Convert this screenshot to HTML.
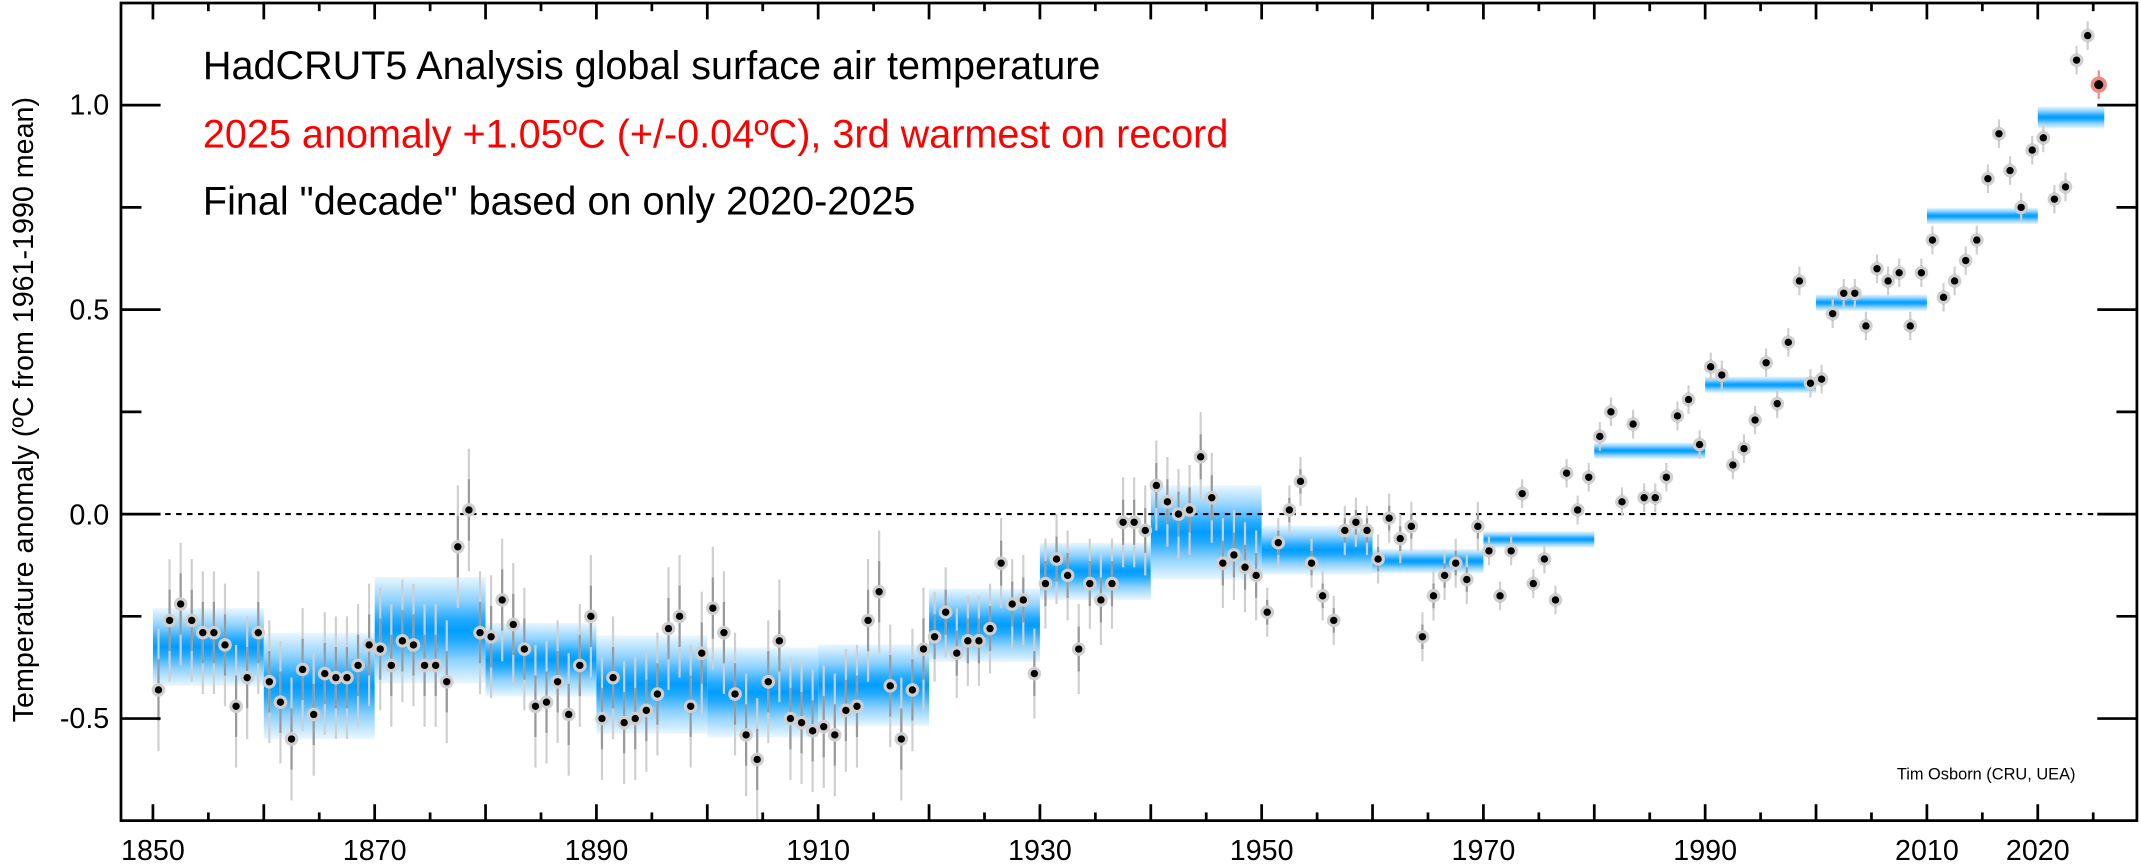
<!DOCTYPE html>
<html><head><meta charset="utf-8"><style>
html,body{margin:0;padding:0;background:#fff;}
svg{display:block;font-family:"Liberation Sans",sans-serif;}
</style></head><body>
<svg id="s" width="2141" height="865" viewBox="0 0 1568 633.5" preserveAspectRatio="none" xmlns="http://www.w3.org/2000/svg">
<defs>
<linearGradient id="g" x1="0" y1="0" x2="0" y2="1">
<stop offset="0" stop-color="#eaf7ff"/>
<stop offset="0.22" stop-color="#8fd2ff"/>
<stop offset="0.4" stop-color="#22aaff"/>
<stop offset="0.5" stop-color="#009dff"/>
<stop offset="0.6" stop-color="#22aaff"/>
<stop offset="0.78" stop-color="#8fd2ff"/>
<stop offset="1" stop-color="#eaf7ff"/>
</linearGradient>
</defs>
<g id="bands"></g>
<line x1="89" y1="376.5" x2="1565" y2="376.5" stroke="#000" stroke-width="1.6" stroke-dasharray="4,4"/>
<g id="pts"></g>
<rect x="88.6" y="2.2" width="1476.4" height="598.8" fill="none" stroke="#000" stroke-width="2"/>
<g id="ax" stroke="#000" stroke-width="2"></g>
<g font-size="21" fill="#000" text-anchor="end">
<text x="80" y="84">1.0</text>
<text x="80" y="234">0.5</text>
<text x="80" y="384">0.0</text>
<text x="80" y="533">-0.5</text>
</g>
<g font-size="21" fill="#000" text-anchor="middle" id="xl"></g>
<text transform="translate(24,300) rotate(-90)" font-size="21" text-anchor="middle">Temperature anomaly (ºC from 1961-1990 mean)</text>
<text x="148.6" y="58" font-size="29">HadCRUT5 Analysis global surface air temperature</text>
<text x="148.6" y="108" font-size="29" fill="#ff0000">2025 anomaly +1.05ºC (+/-0.04ºC), 3rd warmest on record</text>
<text x="148.6" y="157" font-size="29">Final "decade" based on only 2020-2025</text>
<text x="1520" y="571" font-size="12" text-anchor="end">Tim Osborn (CRU, UEA)</text>
</svg>
<script>
var d=[-0.43,-0.26,-0.22,-0.26,-0.29,-0.29,-0.32,-0.47,-0.40,-0.29,-0.41,-0.46,-0.55,-0.38,-0.49,-0.39,-0.40,-0.40,-0.37,-0.32,-0.33,-0.37,-0.31,-0.32,-0.37,-0.37,-0.41,-0.08,0.01,-0.29,-0.30,-0.21,-0.27,-0.33,-0.47,-0.46,-0.41,-0.49,-0.37,-0.25,-0.50,-0.40,-0.51,-0.50,-0.48,-0.44,-0.28,-0.25,-0.47,-0.34,-0.23,-0.29,-0.44,-0.54,-0.60,-0.41,-0.31,-0.50,-0.51,-0.53,-0.52,-0.54,-0.48,-0.47,-0.26,-0.19,-0.42,-0.55,-0.43,-0.33,-0.30,-0.24,-0.34,-0.31,-0.31,-0.28,-0.12,-0.22,-0.21,-0.39,-0.17,-0.11,-0.15,-0.33,-0.17,-0.21,-0.17,-0.02,-0.02,-0.04,0.07,0.03,0.00,0.01,0.14,0.04,-0.12,-0.10,-0.13,-0.15,-0.24,-0.07,0.01,0.08,-0.12,-0.20,-0.26,-0.04,-0.02,-0.04,-0.11,-0.01,-0.06,-0.03,-0.30,-0.20,-0.15,-0.12,-0.16,-0.03,-0.09,-0.20,-0.09,0.05,-0.17,-0.11,-0.21,0.10,0.01,0.09,0.19,0.25,0.03,0.22,0.04,0.04,0.09,0.24,0.28,0.17,0.36,0.34,0.12,0.16,0.23,0.37,0.27,0.42,0.57,0.32,0.33,0.49,0.54,0.54,0.46,0.60,0.57,0.59,0.46,0.59,0.67,0.53,0.57,0.62,0.67,0.82,0.93,0.84,0.75,0.89,0.92,0.77,0.80,1.11,1.17,1.05];
function X(y){return 112+(y-1850)*8.12;}
function Y(v){return 376.5-v*299.5;}
var ns="http://www.w3.org/2000/svg";
function el(p,t,a){var e=document.createElementNS(ns,t);for(var k in a)e.setAttribute(k,a[k]);p.appendChild(e);return e;}
var B=document.getElementById('bands'),P=document.getElementById('pts'),A=document.getElementById('ax'),XL=document.getElementById('xl');
var hh=[0.095,0.13,0.13,0.09,0.12,0.11,0.1,0.09,0.07,0.115,0.06,0.03,0.02,0.02,0.02,0.02,0.02,0.027];
var mc={0:-0.325,1:-0.42,8:-0.14,9:-0.045,10:-0.088,11:-0.115};
for(var i=0;i<18;i++){var s=1850+i*10,e=Math.min(s+10,2026),sum=0,n=0;for(var y=s;y<e;y++){sum+=d[y-1850];n++;}
var m=(i in mc)?mc[i]:sum/n,h=hh[i];var x0=X(s),x1=X(Math.min(s+10,2026));
el(B,'rect',{x:x0,y:Y(m+h),width:x1-x0,height:h*2*299.5,fill:'url(#g)'});}
for(var i=0;i<d.length;i++){var y=1850+i,v=d[i],x=X(y+0.5);var u=i<70?0.15:i<100?0.11:i<120?0.06:0.035;
var last=(y==2025);
el(P,'line',{x1:x,x2:x,y1:Y(v+u),y2:Y(v-u),stroke:last?'#f08a80':'#cfcfcf','stroke-width':1.6});
if(!last)el(P,'line',{x1:x,x2:x,y1:Y(v+u*0.5),y2:Y(v-u*0.5),stroke:'#999','stroke-width':1.6});
el(P,'circle',{cx:x,cy:Y(v),r:last?6:5,fill:last?'#f08a80':'#cfcfcf'});
el(P,'circle',{cx:x,cy:Y(v),r:last?3.3:2.7,fill:'#000'});}
for(var y=1850;y<=2025;y+=5){var x=X(y),L=(y%10==0)?12:6;
el(A,'line',{x1:x,x2:x,y1:601,y2:601-L});el(A,'line',{x1:x,x2:x,y1:2.2,y2:2.2+L});}
[1850,1870,1890,1910,1930,1950,1970,1990,2010,2020].forEach(function(y){var t=el(XL,'text',{x:X(y),y:630});t.textContent=y;});
for(var v=-0.75;v<=1.25;v+=0.25){var y=Y(v);if(y<3||y>600)continue;var maj=Math.abs(v*2-Math.round(v*2))<0.01,L=maj?29:15;
el(A,'line',{x1:88.6,x2:88.6+L,y1:y,y2:y});el(A,'line',{x1:1565,x2:1565-L,y1:y,y2:y});}
</script>
</body></html>
